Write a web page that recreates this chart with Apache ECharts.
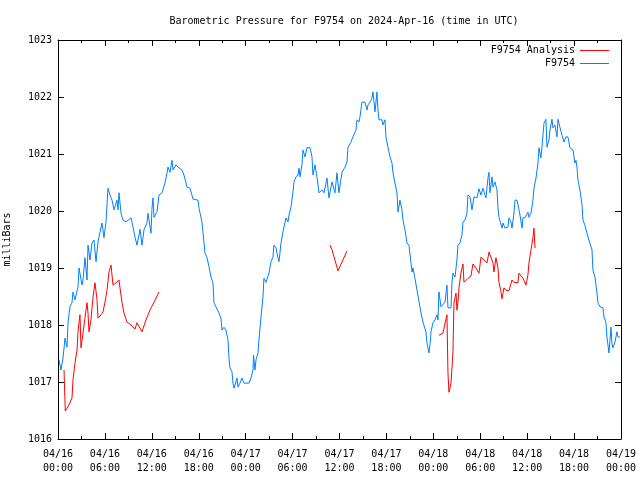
<!DOCTYPE html>
<html>
<head>
<meta charset="utf-8">
<script src="https://cdn.jsdelivr.net/npm/echarts@6/dist/echarts.min.js"></script>
<style>html,body{margin:0;padding:0;background:#fff}#c{width:640px;height:480px}</style>
</head>
<body>
<div id="c"></div>
<script>
// hours since 2024-04-16 00:00 UTC
const xTickLabels = ["04/16\n00:00","04/16\n06:00","04/16\n12:00","04/16\n18:00","04/17\n00:00","04/17\n06:00","04/17\n12:00","04/17\n18:00","04/18\n00:00","04/18\n06:00","04/18\n12:00","04/18\n18:00","04/19\n00:00"];
const yTickLabels = ["1016","1017","1018","1019","1020","1021","1022","1023"];
const seriesNames = ["F9754 Analysis", "F9754"];

const stationTimes = [0.13,0.38,0.64,0.90,1.15,1.28,1.53,1.79,1.92,2.17,2.56,2.69,3.07,3.20,3.45,3.71,3.84,4.09,4.35,4.60,4.86,5.12,5.37,5.63,5.88,6.14,6.39,6.65,6.91,7.16,7.54,7.67,7.80,8.06,8.31,8.70,8.95,9.34,9.59,9.85,10.10,10.36,10.49,10.74,11.00,11.38,11.51,11.89,12.02,12.15,12.28,12.66,12.92,13.30,13.68,13.94,14.07,14.32,14.58,14.71,15.09,15.35,15.60,15.86,16.11,16.50,16.88,17.26,17.90,18.03,18.41,18.54,18.80,19.05,19.31,19.57,19.82,19.95,20.20,20.59,20.84,20.97,21.23,21.48,21.74,21.87,21.99,22.25,22.38,22.51,22.89,23.02,23.27,23.53,23.79,24.42,24.68,24.94,25.00,25.19,25.32,25.58,25.70,25.96,26.21,26.34,26.60,26.85,26.98,27.24,27.49,27.62,27.88,28.13,28.26,28.52,28.77,28.90,29.16,29.41,29.54,29.80,30.05,30.18,30.43,30.69,30.82,30.95,31.20,31.33,31.59,31.84,32.23,32.48,32.61,32.86,33.12,33.38,33.76,34.02,34.40,34.65,35.04,35.42,35.68,35.93,36.32,36.70,36.96,37.08,37.47,37.72,38.11,38.24,38.49,38.62,38.87,39.26,39.51,39.64,39.90,40.15,40.28,40.54,40.79,40.92,41.05,41.43,41.56,41.82,41.94,42.20,42.46,42.71,42.84,43.09,43.35,43.48,43.73,43.99,44.12,44.37,44.63,44.88,45.14,45.27,45.40,45.65,45.91,46.16,46.42,46.68,46.93,47.06,47.19,47.44,47.57,47.70,47.95,48.21,48.47,48.59,48.72,48.98,49.23,49.49,49.74,49.87,50.26,50.38,50.51,50.77,51.02,51.15,51.41,51.66,51.79,52.05,52.30,52.43,52.69,52.94,53.20,53.58,53.84,54.09,54.35,54.48,54.73,54.99,55.12,55.24,55.50,55.63,55.88,56.14,56.27,56.39,56.52,56.78,56.91,57.16,57.54,57.67,57.93,58.06,58.31,58.44,58.70,58.95,59.08,59.34,59.46,59.72,60.10,60.23,60.49,60.74,60.87,61.13,61.38,61.51,61.76,62.02,62.15,62.40,62.53,62.79,62.92,63.17,63.30,63.55,63.81,63.94,64.19,64.45,64.71,64.96,65.22,65.47,65.86,66.11,66.24,66.37,66.50,66.75,67.01,67.14,67.39,67.65,67.90,68.29,68.41,68.67,68.93,69.05,69.31,69.69,69.82,70.08,70.20,70.46,70.72,70.84,70.97,71.23,71.48,71.61,71.87];
const stationPressure = [1017.39,1017.21,1017.42,1017.77,1017.61,1018.04,1018.32,1018.39,1018.58,1018.44,1018.67,1019.00,1018.70,1018.79,1019.18,1018.79,1019.40,1019.14,1019.44,1019.49,1019.11,1019.46,1019.63,1019.79,1019.53,1019.81,1020.40,1020.28,1020.19,1020.02,1020.19,1020.02,1020.32,1019.96,1019.84,1019.81,1019.84,1019.88,1019.72,1019.54,1019.40,1019.58,1019.68,1019.40,1019.67,1019.79,1019.96,1019.61,1020.05,1020.23,1019.89,1019.98,1020.28,1020.32,1020.49,1020.67,1020.77,1020.68,1020.89,1020.72,1020.81,1020.77,1020.79,1020.72,1020.63,1020.42,1020.40,1020.21,1020.19,1020.05,1019.81,1019.63,1019.26,1019.19,1019.02,1018.84,1018.74,1018.39,1018.32,1018.21,1018.12,1017.91,1017.96,1017.91,1017.74,1017.42,1017.25,1017.18,1016.98,1016.89,1017.07,1016.91,1016.98,1017.07,1016.98,1016.98,1017.07,1017.21,1017.47,1017.21,1017.39,1017.51,1017.74,1018.14,1018.49,1018.82,1018.75,1018.74,1018.91,1019.11,1019.19,1019.40,1019.35,1019.18,1019.11,1019.44,1019.63,1019.72,1019.88,1019.81,1019.93,1020.07,1020.33,1020.51,1020.60,1020.63,1020.75,1020.60,1020.81,1021.07,1020.95,1021.11,1021.11,1020.95,1020.63,1020.81,1020.60,1020.32,1020.37,1020.32,1020.58,1020.23,1020.51,1020.32,1020.67,1020.32,1020.68,1020.77,1020.86,1021.11,1021.21,1021.30,1021.42,1021.60,1021.56,1021.65,1021.91,1021.91,1021.77,1021.86,1021.91,1021.98,1022.09,1021.74,1022.09,1021.77,1021.60,1021.60,1021.51,1021.60,1021.30,1021.12,1020.95,1020.84,1020.67,1020.49,1020.32,1019.98,1020.19,1020.02,1019.84,1019.67,1019.44,1019.40,1019.09,1018.93,1019.00,1018.82,1018.61,1018.58,1018.21,1018.05,1018.04,1017.88,1017.68,1017.51,1017.65,1017.88,1018.04,1018.09,1018.18,1018.09,1018.58,1018.32,1018.32,1018.40,1018.70,1018.30,1018.30,1018.74,1018.91,1018.84,1019.14,1019.40,1019.44,1019.58,1019.81,1019.84,1019.96,1020.28,1020.25,1020.02,1020.25,1020.23,1020.39,1020.28,1020.40,1020.33,1020.23,1020.58,1020.68,1020.32,1020.60,1020.42,1020.51,1020.37,1020.05,1019.89,1019.88,1019.70,1019.79,1019.70,1019.72,1019.88,1019.81,1019.70,1019.96,1020.19,1020.19,1020.02,1019.93,1019.70,1019.88,1019.88,1019.98,1019.89,1019.96,1020.19,1020.40,1020.58,1020.84,1021.11,1020.93,1021.33,1021.54,1021.61,1021.12,1021.25,1021.42,1021.61,1021.46,1021.51,1021.30,1021.61,1021.47,1021.33,1021.21,1021.30,1021.30,1021.11,1021.07,1020.84,1020.89,1020.77,1020.54,1020.37,1020.11,1019.84,1019.75,1019.61,1019.49,1019.32,1018.96,1018.84,1018.56,1018.39,1018.32,1018.30,1018.14,1018.04,1017.79,1017.51,1017.96,1017.68,1017.60,1017.70,1017.88,1017.79,1017.79];

// null entries mark the gaps between analysis runs
const analysisTimes = [0.77,0.93,1.41,1.79,1.92,2.17,2.43,2.56,2.69,2.81,2.94,3.20,3.45,3.71,3.84,3.96,4.22,4.35,4.48,4.73,4.99,5.12,5.50,5.75,6.01,6.27,6.52,6.78,7.03,7.42,7.80,7.93,8.18,8.44,8.82,9.34,9.85,10.10,10.74,11.25,11.76,12.28,12.92,
  20.0,
  34.78,35.04,35.81,36.96,
  42.0,
  48.72,49.23,49.74,49.87,50.00,50.26,50.51,50.64,50.90,51.02,51.15,51.28,51.53,51.79,51.92,52.43,52.81,53.07,53.45,53.84,54.09,54.48,54.86,55.12,55.37,55.63,55.75,56.01,56.27,56.39,56.65,56.78,57.03,57.29,57.67,58.06,58.31,58.82,58.95,59.46,59.85,60.10,60.23,60.49,60.74,60.87,61.00];
const analysisPressure = [1017.21,1016.49,1016.60,1016.72,1017.04,1017.33,1017.56,1017.88,1018.05,1018.18,1017.60,1017.86,1018.12,1018.39,1018.21,1017.88,1018.09,1018.30,1018.49,1018.74,1018.44,1018.12,1018.18,1018.23,1018.40,1018.61,1018.93,1019.05,1018.70,1018.74,1018.79,1018.65,1018.40,1018.21,1018.05,1018.00,1017.93,1018.04,1017.88,1018.09,1018.26,1018.40,1018.58,
  null,
  1019.40,1019.32,1018.95,1019.30,
  null,
  1017.82,1017.86,1018.18,1017.16,1016.82,1016.98,1017.53,1018.39,1018.56,1018.26,1018.40,1018.65,1018.91,1019.07,1018.75,1018.82,1018.86,1019.07,1019.00,1018.91,1019.19,1019.14,1019.09,1019.28,1019.19,1019.09,1018.93,1019.18,1019.00,1018.75,1018.58,1018.46,1018.65,1018.61,1018.60,1018.79,1018.75,1018.74,1018.91,1018.82,1018.70,1018.88,1019.09,1019.32,1019.53,1019.70,1019.35];

const FONT = 'DejaVu Sans Mono';
const pair = (ts, vs) => ts.map((t, i) => [t, vs[i]]);

const chart = echarts.init(document.getElementById('c'), null, {renderer: 'canvas'});
const xCommon = {
  type: 'value', min: 0, max: 72, interval: 6,
  axisLine: {show: true, onZero: false, lineStyle: {color: '#000', width: 1}},
  axisTick: {show: true, inside: true, length: 6, lineStyle: {color: '#000'}},
  minorTick: {show: true, splitNumber: 2, length: 3, lineStyle: {color: '#000'}},
  splitLine: {show: false}
};
const yCommon = {
  type: 'value', min: 1016, max: 1023, interval: 1,
  axisLine: {show: true, onZero: false, lineStyle: {color: '#000', width: 1}},
  axisTick: {show: true, inside: true, length: 6, lineStyle: {color: '#000'}},
  splitLine: {show: false}
};
chart.setOption({
  animation: false,
  backgroundColor: '#fff',
  title: {
    text: 'Barometric Pressure for F9754 on 2024-Apr-16 (time in UTC)',
    left: 339, top: 11, textAlign: 'center',
    textStyle: {fontFamily: FONT, fontSize: 10, fontWeight: 'normal', color: '#000'}
  },
  legend: {
    orient: 'vertical', align: 'right', right: 31, top: 44, padding: 0,
    itemWidth: 29, itemHeight: 13, itemGap: 0,
    icon: 'path://M0,0M29,13M0,6H29V7H0Z',
    data: seriesNames,
    textStyle: {fontFamily: FONT, fontSize: 10, color: '#000'}
  },
  grid: {left: 58, right: 19, top: 40, bottom: 41, containLabel: false, outerBoundsMode: 'none'},
  xAxis: [
    Object.assign({}, xCommon, {
      position: 'bottom',
      axisLabel: {
        show: true, margin: 8, lineHeight: 14,
        fontFamily: FONT, fontSize: 10, color: '#000',
        formatter: v => xTickLabels[Math.round(v / 6)]
      }
    }),
    Object.assign({}, xCommon, {position: 'top', axisLabel: {show: false}})
  ],
  yAxis: [
    Object.assign({}, yCommon, {
      position: 'left',
      name: 'milliBars', nameLocation: 'middle', nameGap: 46, nameRotate: 90,
      nameTextStyle: {fontFamily: FONT, fontSize: 10, color: '#000'},
      axisLabel: {
        show: true, margin: 6, fontFamily: FONT, fontSize: 10, color: '#000',
        formatter: v => yTickLabels[Math.round(v - 1016)]
      }
    }),
    Object.assign({}, yCommon, {position: 'right', axisLabel: {show: false}})
  ],
  series: [
    {
      name: seriesNames[0], type: 'line', xAxisIndex: 0, yAxisIndex: 0,
      data: pair(analysisTimes, analysisPressure),
      symbol: 'none', showSymbol: false, connectNulls: false,
      lineStyle: {color: '#ff0000', width: 1}, itemStyle: {color: '#ff0000'}, z: 3
    },
    {
      name: seriesNames[1], type: 'line', xAxisIndex: 0, yAxisIndex: 0,
      data: pair(stationTimes, stationPressure),
      symbol: 'none', showSymbol: false,
      lineStyle: {color: '#0080ff', width: 1}, itemStyle: {color: '#0080ff'}, z: 2
    }
  ]
});
</script>
</body>
</html>
